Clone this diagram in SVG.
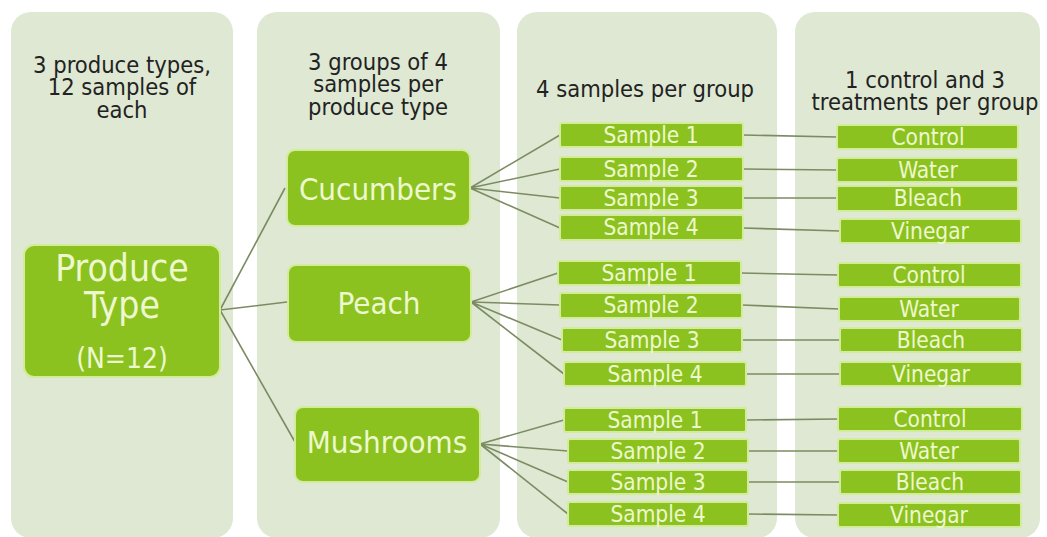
<svg xmlns="http://www.w3.org/2000/svg" width="1047" height="537" viewBox="0 0 1047 537">
<style>
.col{fill:#dee8d2;}
.box{fill:#8cc21f;stroke:#d3ec9a;stroke-width:2;}
.hd{font-family:"DejaVu Sans Condensed","DejaVu Sans",sans-serif;font-stretch:condensed;font-size:23.5px;fill:#222;text-anchor:middle;}
.lb{font-family:"DejaVu Sans Condensed","DejaVu Sans",sans-serif;font-stretch:condensed;fill:#eef8cf;text-anchor:middle;}
.s{font-size:22.5px;}
.ln{stroke:#7c8c62;stroke-width:1.6;fill:none;}
</style>
<rect width="1047" height="537" fill="#ffffff"/>
<g id="columns">
<rect class="col" x="11" y="12" width="222" height="526" rx="20"/>
<rect class="col" x="257" y="12" width="243" height="526" rx="20"/>
<rect class="col" x="517" y="12" width="260" height="526" rx="20"/>
<rect class="col" x="795" y="12" width="245" height="526" rx="20"/>
</g>
<g id="headers">
<text class="hd" x="122" y="73">3 produce types,</text>
<text class="hd" x="122" y="95">12 samples of</text>
<text class="hd" x="122" y="118">each</text>
<text class="hd" x="378" y="70">3 groups of 4</text>
<text class="hd" x="378" y="92">samples per</text>
<text class="hd" x="378" y="115">produce type</text>
<text class="hd" x="645" y="97">4 samples per group</text>
<text class="hd" x="925" y="88">1 control and 3</text>
<text class="hd" x="925" y="110">treatments per group</text>
</g>
<g id="connectors">
<path class="ln" d="M220 310 L285 188 M220 310 L287 302 M220 310 L295 442"/>
<path class="ln" d="M470 188 L560 135 M470 188 L560 169 M470 188 L560 198 M470 188 L560 228"/>
<path class="ln" d="M471 302 L558 273 M471 302 L560 305 M471 302 L562 340 M471 302 L564 374"/>
<path class="ln" d="M480 444 L564 420 M480 444 L568 451 M480 444 L568 482 M480 444 L568 514"/>
<path class="ln" d="M743 135 L837 137 M743 169 L837 170 M743 198 L837 198 M743 228 L840 231"/>
<path class="ln" d="M741 273 L838 275 M742 305 L839 309 M742 340 L840 340 M746 374 L840 374"/>
<path class="ln" d="M746 420 L838 419 M748 451 L838 451 M748 482 L840 482 M748 514 L838 515"/>
</g>
<g id="produce-type">
<rect class="box" x="24" y="245" width="196" height="132" rx="10"/>
<text class="lb" x="122" y="281" font-size="37">Produce</text>
<text class="lb" x="122" y="318" font-size="37">Type</text>
<text class="lb" x="122" y="368" font-size="28">(N=12)</text>
</g>
<g id="cucumbers">
<rect class="box" x="287" y="150" width="183" height="76" rx="8"/>
<text class="lb" x="378" y="200" font-size="31">Cucumbers</text>
</g>
<g id="peach">
<rect class="box" x="288" y="265" width="183" height="77" rx="8"/>
<text class="lb" x="379" y="314" font-size="31">Peach</text>
</g>
<g id="mushrooms">
<rect class="box" x="295" y="407" width="185" height="75" rx="8"/>
<text class="lb" x="387" y="453" font-size="31">Mushrooms</text>
</g>
<g id="c-s1"><rect class="box" x="560" y="123" width="183" height="24" rx="2"/><text class="lb s" x="651" y="143">Sample 1</text></g>
<g id="c-s2"><rect class="box" x="560" y="157" width="183" height="24" rx="2"/><text class="lb s" x="651" y="177">Sample 2</text></g>
<g id="c-s3"><rect class="box" x="560" y="186" width="183" height="24" rx="2"/><text class="lb s" x="651" y="206">Sample 3</text></g>
<g id="c-s4"><rect class="box" x="560" y="215" width="183" height="25" rx="2"/><text class="lb s" x="651" y="235">Sample 4</text></g>
<g id="p-s1"><rect class="box" x="558" y="261" width="183" height="24" rx="2"/><text class="lb s" x="649" y="281">Sample 1</text></g>
<g id="p-s2"><rect class="box" x="560" y="293" width="182" height="25" rx="2"/><text class="lb s" x="651" y="313">Sample 2</text></g>
<g id="p-s3"><rect class="box" x="562" y="328" width="180" height="24" rx="2"/><text class="lb s" x="652" y="348">Sample 3</text></g>
<g id="p-s4"><rect class="box" x="564" y="362" width="182" height="24" rx="2"/><text class="lb s" x="655" y="382">Sample 4</text></g>
<g id="m-s1"><rect class="box" x="564" y="408" width="182" height="24" rx="2"/><text class="lb s" x="655" y="428">Sample 1</text></g>
<g id="m-s2"><rect class="box" x="568" y="439" width="180" height="24" rx="2"/><text class="lb s" x="658" y="459">Sample 2</text></g>
<g id="m-s3"><rect class="box" x="568" y="470" width="180" height="24" rx="2"/><text class="lb s" x="658" y="490">Sample 3</text></g>
<g id="m-s4"><rect class="box" x="568" y="502" width="180" height="24" rx="2"/><text class="lb s" x="658" y="522">Sample 4</text></g>
<g id="c-t1"><rect class="box" x="837" y="125" width="181" height="24" rx="2"/><text class="lb s" x="928" y="145">Control</text></g>
<g id="c-t2"><rect class="box" x="837" y="158" width="181" height="24" rx="2"/><text class="lb s" x="928" y="178">Water</text></g>
<g id="c-t3"><rect class="box" x="837" y="186" width="181" height="25" rx="2"/><text class="lb s" x="928" y="206">Bleach</text></g>
<g id="c-t4"><rect class="box" x="840" y="219" width="181" height="24" rx="2"/><text class="lb s" x="930" y="239">Vinegar</text></g>
<g id="p-t1"><rect class="box" x="838" y="263" width="183" height="24" rx="2"/><text class="lb s" x="929" y="283">Control</text></g>
<g id="p-t2"><rect class="box" x="839" y="297" width="181" height="24" rx="2"/><text class="lb s" x="929" y="317">Water</text></g>
<g id="p-t3"><rect class="box" x="840" y="328" width="182" height="24" rx="2"/><text class="lb s" x="931" y="348">Bleach</text></g>
<g id="p-t4"><rect class="box" x="840" y="362" width="182" height="24" rx="2"/><text class="lb s" x="931" y="382">Vinegar</text></g>
<g id="m-t1"><rect class="box" x="838" y="407" width="184" height="24" rx="2"/><text class="lb s" x="930" y="427">Control</text></g>
<g id="m-t2"><rect class="box" x="838" y="439" width="182" height="24" rx="2"/><text class="lb s" x="929" y="459">Water</text></g>
<g id="m-t3"><rect class="box" x="840" y="470" width="181" height="24" rx="2"/><text class="lb s" x="930" y="490">Bleach</text></g>
<g id="m-t4"><rect class="box" x="838" y="503" width="183" height="24" rx="2"/><text class="lb s" x="929" y="523">Vinegar</text></g>
</svg>
